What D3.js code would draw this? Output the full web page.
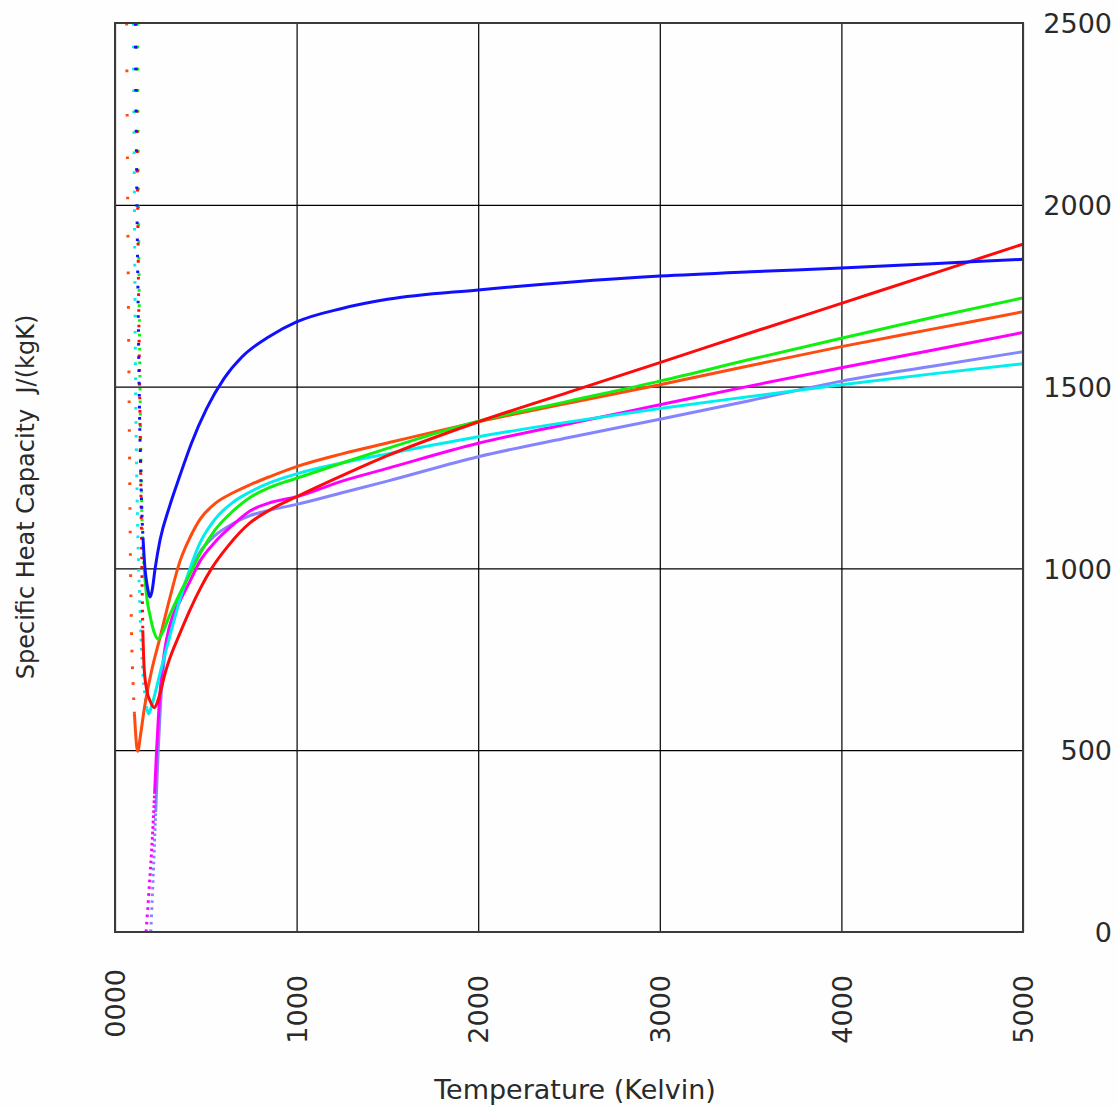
<!DOCTYPE html>
<html>
<head>
<meta charset="utf-8">
<script src="https://cdn.jsdelivr.net/npm/d3@7"></script>
<style>
  html, body { margin: 0; padding: 0; background: #fefefe; }
  svg { display: block; }
  text { font-family: "DejaVu Sans", sans-serif; fill: #2a2a2a; }
</style>
</head>
<body>
<svg id="chart" width="1118" height="1107"></svg>
<script>
// Specific heat capacity cp(T) for seven gases, J/(kg K), T in Kelvin.
// Each array holds [T, cp] pairs in increasing T.
const seriesBlue = [
  [112, 2500], [117, 2200], [122, 1950], [128, 1700], [134, 1463], [140, 1300],
  [147, 1170], [154, 1085], [165, 1000], [178, 950], [186, 930], [193, 921],
  [203, 935], [221, 1000], [248, 1078], [300, 1170], [358, 1256], [420, 1343],
  [505, 1440], [600, 1522], [700, 1582], [850, 1638], [1000, 1678], [1250, 1715],
  [1500, 1740], [2000, 1766], [2500, 1787], [3000, 1804], [3500, 1816],
  [4000, 1826], [4500, 1838], [5000, 1850]
];
const seriesRed = [
  [116, 2500], [121, 2200], [126, 1950], [132, 1650], [138, 1400], [143, 1200],
  [148, 1000], [153, 830], [160, 730], [175, 665], [193, 636], [216, 617],
  [232, 630], [250, 660], [275, 710], [300, 750], [358, 822], [413, 886],
  [470, 945], [532, 1000], [620, 1060], [743, 1125], [850, 1160], [1000, 1197],
  [1250, 1255], [1500, 1310], [2000, 1403], [2500, 1485], [3000, 1566],
  [3500, 1648], [4000, 1729], [4500, 1810], [5000, 1892]
];
const seriesGreen = [
  [123, 2500], [128, 2100], [133, 1750], [139, 1450], [146, 1200], [153, 1070],
  [162, 990], [175, 920], [193, 870], [215, 825], [237, 806], [260, 822],
  [300, 870], [358, 932], [413, 985], [468, 1040], [550, 1105], [650, 1158],
  [743, 1195], [850, 1222], [1000, 1248], [1250, 1290], [1500, 1330],
  [2000, 1405], [2500, 1460], [3000, 1515], [3500, 1575], [4000, 1633],
  [4500, 1690], [5000, 1744]
];
const seriesOrange = [
  [64, 2500], [70, 2000], [77, 1518], [85, 1023], [92, 800], [100, 680],
  [107, 600], [113, 550], [119, 512], [125, 497], [140, 540], [160, 610],
  [200, 715], [248, 810], [300, 915], [358, 1020], [413, 1085], [468, 1135],
  [550, 1178], [650, 1208], [743, 1230], [850, 1252], [1000, 1280],
  [1250, 1315], [1500, 1345], [2000, 1403], [2500, 1455], [3000, 1505],
  [3500, 1558], [4000, 1610], [4500, 1658], [5000, 1706]
];
const seriesCyan = [
  [101, 2500], [107, 2000], [113, 1518], [120, 1250], [128, 1050], [138, 880],
  [150, 740], [165, 650], [175, 615], [185, 600], [200, 618], [220, 655],
  [248, 712], [300, 810], [358, 915], [413, 1000], [468, 1070], [550, 1135],
  [650, 1182], [743, 1210], [850, 1235], [1000, 1260], [1250, 1290],
  [1500, 1315], [2000, 1362], [2500, 1403], [3000, 1440], [3500, 1473],
  [4000, 1505], [4500, 1535], [5000, 1563]
];
const seriesMagenta = [
  [171, 0], [188, 120], [205, 253], [218, 380], [229, 500], [240, 600],
  [255, 700], [275, 780], [300, 840], [358, 910], [413, 965], [468, 1020],
  [550, 1072], [650, 1120], [743, 1158], [850, 1180], [1000, 1197],
  [1250, 1240], [1500, 1275], [2000, 1344], [2500, 1398], [3000, 1450],
  [3500, 1502], [4000, 1552], [4500, 1600], [5000, 1649]
];
const seriesLightBlue = [
  [197, 0], [210, 150], [224, 330], [238, 500], [250, 620], [265, 720],
  [285, 800], [320, 870], [358, 925], [413, 990], [468, 1045], [550, 1090],
  [650, 1123], [743, 1145], [850, 1160], [1000, 1176], [1250, 1208],
  [1500, 1240], [2000, 1307], [2500, 1360], [3000, 1410], [3500, 1462],
  [4000, 1515], [4500, 1556], [5000, 1596]
];

const xTicks = [0, 1000, 2000, 3000, 4000, 5000];
const xTickLabels = ["0000", "1000", "2000", "3000", "4000", "5000"];
const yTicks = [0, 500, 1000, 1500, 2000, 2500];
const yTickLabels = ["0", "500", "1000", "1500", "2000", "2500"];

// Drawing order, colour, and the temperature below which each curve is
// shown as sparse dots (its steep low-temperature branch). gapStart/gapEnd
// set the dot spacing along that branch, from its low-T end to the solid part.
const layers = [
  { data: seriesLightBlue, color: "#8484ff", dotsBelow: 228, gapStart: 5, gapEnd: 2 },
  { data: seriesMagenta,   color: "#ff00ff", dotsBelow: 218, gapStart: 5, gapEnd: 2 },
  { data: seriesCyan,      color: "#00eeee", dotsBelow: 175, gapStart: 20, gapEnd: 5 },
  { data: seriesOrange,    color: "#ff4a10", dotsBelow: 107, gapStart: 44, gapEnd: 11 },
  { data: seriesGreen,     color: "#10f010", dotsBelow: 162, gapStart: 20, gapEnd: 5 },
  { data: seriesRed,       color: "#ff0a0a", dotsBelow: 153, gapStart: 20, gapEnd: 5 },
  { data: seriesBlue,      color: "#1010ff", dotsBelow: 154, gapStart: 20, gapEnd: 5 }
];

const svg = d3.select("#chart");
const plotLeft = 115, plotRight = 1023, plotTop = 23, plotBottom = 932;
const x = d3.scaleLinear().domain([0, 5000]).range([plotLeft, plotRight]);
const y = d3.scaleLinear().domain([0, 2500]).range([plotBottom, plotTop]);

// grid lines
const xGrid = svg.append("g")
  .attr("transform", `translate(0,${plotBottom})`)
  .call(d3.axisBottom(x).tickValues(xTicks).tickSize(-(plotBottom - plotTop)).tickFormat(""));
xGrid.select(".domain").remove();
xGrid.selectAll(".tick line").attr("stroke", "#000").attr("stroke-width", 1.2);

const yGrid = svg.append("g")
  .attr("transform", `translate(${plotRight},0)`)
  .call(d3.axisRight(y).tickValues(yTicks).tickSize(-(plotRight - plotLeft)).tickFormat(""));
yGrid.select(".domain").remove();
yGrid.selectAll(".tick line").attr("stroke", "#000").attr("stroke-width", 1.2);

// curves
svg.append("clipPath").attr("id", "plot-clip")
  .append("rect").attr("x", plotLeft).attr("y", plotTop)
  .attr("width", plotRight - plotLeft).attr("height", plotBottom - plotTop);

const line = d3.line()
  .x(d => x(d[0]))
  .y(d => y(d[1]))
  .curve(d3.curveMonotoneX);

// dash pattern whose gaps shrink steadily along the path
function taperedDashes(length, dot, g0, g1) {
  const parts = [];
  let pos = 0;
  while (pos < length) {
    const gap = g0 + (g1 - g0) * (pos / length);
    parts.push(dot, gap.toFixed(1));
    pos += dot + gap;
  }
  return parts.join(" ");
}

const curves = svg.append("g").attr("clip-path", "url(#plot-clip)");
layers.forEach(s => {
  const low = s.data.filter(d => d[0] <= s.dotsBelow);
  const high = s.data.filter(d => d[0] >= low[low.length - 1][0]);
  const dotted = curves.append("path")
    .attr("d", line(low))
    .attr("fill", "none")
    .attr("stroke", s.color)
    .attr("stroke-width", 3);
  const len = dotted.node().getTotalLength();
  dotted.attr("stroke-dasharray", taperedDashes(len, 2.6, s.gapStart, s.gapEnd));
  curves.append("path")
    .attr("d", line(high))
    .attr("fill", "none")
    .attr("stroke", s.color)
    .attr("stroke-width", 3)
    .attr("stroke-linejoin", "round");
});

// frame
svg.append("rect")
  .attr("x", plotLeft).attr("y", plotTop)
  .attr("width", plotRight - plotLeft).attr("height", plotBottom - plotTop)
  .attr("fill", "none").attr("stroke", "#3a3a3a").attr("stroke-width", 2);

// tick labels
const xAxis = svg.append("g").attr("transform", `translate(0,${plotBottom})`)
  .call(d3.axisBottom(x).tickValues(xTicks).tickSize(0).tickFormat((d, i) => xTickLabels[i]));
xAxis.select(".domain").remove();
xAxis.selectAll(".tick text")
  .attr("x", 0).attr("y", 0).attr("dy", "0.36em")
  .attr("transform", (d, i) => `translate(0,${i === 0 ? 37 : 43}) rotate(-90)`)
  .attr("text-anchor", "end")
  .style("font-size", "27px")
  .style("font-family", "DejaVu Sans, sans-serif")
  .attr("fill", "#2a2a2a");

const yAxis = svg.append("g").attr("transform", `translate(${plotRight},0)`)
  .call(d3.axisRight(y).tickValues(yTicks).tickSize(0).tickFormat((d, i) => yTickLabels[i]));
yAxis.select(".domain").remove();
yAxis.selectAll(".tick text")
  .attr("x", 89).attr("dy", "0.36em")
  .attr("text-anchor", "end")
  .style("font-size", "27px")
  .style("font-family", "DejaVu Sans, sans-serif")
  .attr("fill", "#2a2a2a");

// axis titles
svg.append("text")
  .attr("x", 575).attr("y", 1099)
  .attr("text-anchor", "middle")
  .style("font-size", "27px")
  .text("Temperature (Kelvin)");

svg.append("text")
  .attr("transform", "translate(25,497) rotate(-90)")
  .attr("dy", "0.36em")
  .attr("text-anchor", "middle")
  .style("font-size", "24px")
  .style("white-space", "pre")
  .attr("xml:space", "preserve")
  .text("Specific Heat Capacity  J/(kgK)");
</script>
</body>
</html>
